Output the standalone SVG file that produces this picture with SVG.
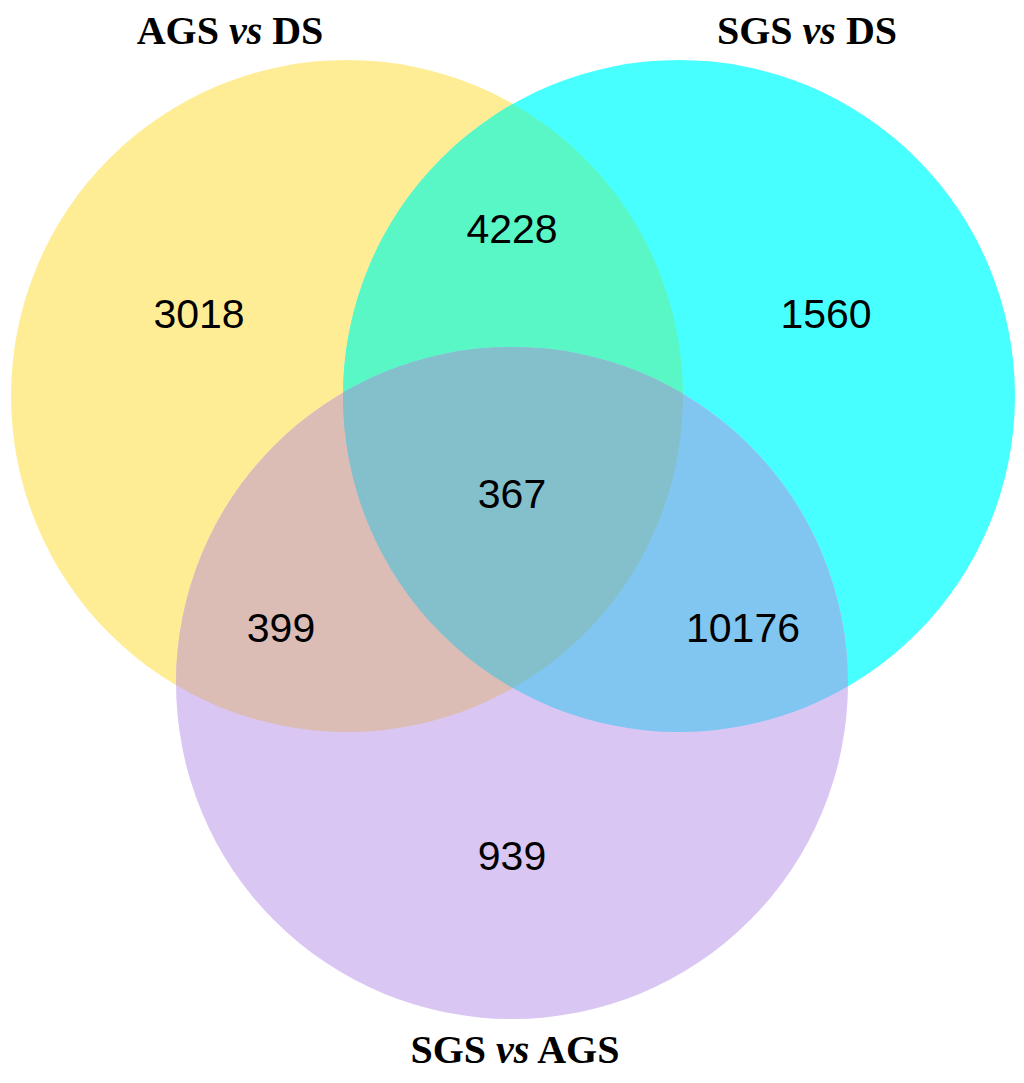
<svg xmlns="http://www.w3.org/2000/svg" width="1024" height="1083" viewBox="0 0 1024 1083">
<style>
.num{font-family:"Liberation Sans",Arial,sans-serif;font-size:41px;fill:#000;text-anchor:middle}
.lab{font-family:"Liberation Serif","Times New Roman",serif;font-size:40px;font-weight:bold;fill:#000;text-anchor:middle}
.it{font-style:italic}
</style>
<defs>
<clipPath id="cA"><circle cx="347" cy="396" r="336"/></clipPath>
<clipPath id="cB"><circle cx="679" cy="396" r="336"/></clipPath>
<clipPath id="cC"><circle cx="512" cy="683" r="336"/></clipPath>
</defs>
<rect width="1024" height="1083" fill="#fff"/>
<g id="setA"><circle cx="347" cy="396" r="336" fill="#FFED96"/></g>
<g id="setB"><circle cx="679" cy="396" r="336" fill="#48FFFF"/></g>
<g id="setC"><circle cx="512" cy="683" r="336" fill="#DAC6F3"/></g>
<g id="overlaps">
<g clip-path="url(#cA)"><circle cx="679" cy="396" r="336" fill="#5AF7C6"/></g>
<g clip-path="url(#cA)"><circle cx="512" cy="683" r="336" fill="#DCBDB5"/></g>
<g clip-path="url(#cB)"><circle cx="512" cy="683" r="336" fill="#80C6F0"/></g>
<g clip-path="url(#cA)"><g clip-path="url(#cB)"><circle cx="512" cy="683" r="336" fill="#84BFCC"/></g></g>
</g>
<g id="counts">
<text class="num" x="199" y="328">3018</text>
<text class="num" x="512" y="243">4228</text>
<text class="num" x="826" y="328">1560</text>
<text class="num" x="512" y="508">367</text>
<text class="num" x="281" y="642">399</text>
<text class="num" x="743" y="642">10176</text>
<text class="num" x="512" y="870">939</text>
</g>
<g id="labels">
<text class="lab" x="230" y="44">AGS <tspan class="it">vs</tspan> DS</text>
<text class="lab" x="807" y="44">SGS <tspan class="it">vs</tspan> DS</text>
<text class="lab" x="515" y="1063">SGS <tspan class="it">vs</tspan> AGS</text>
</g>
</svg>
